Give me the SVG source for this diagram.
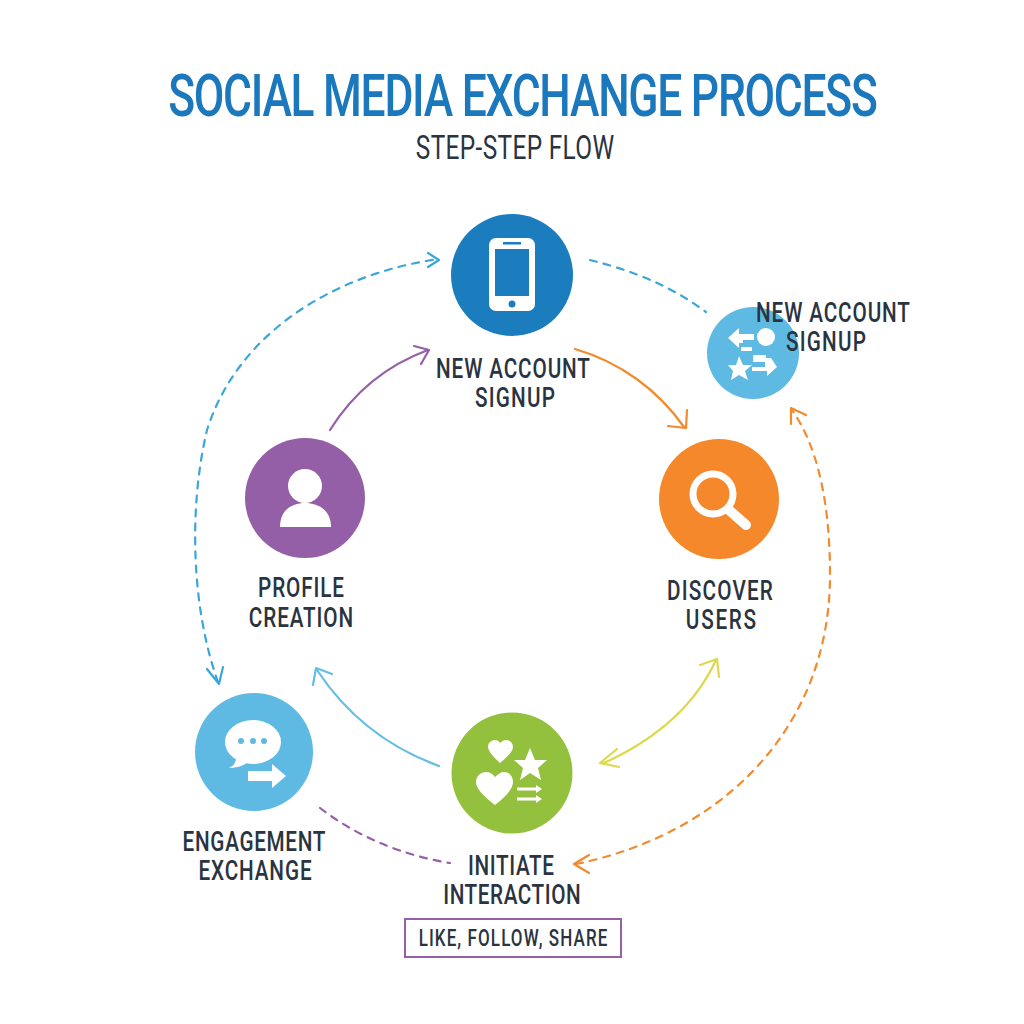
<svg xmlns="http://www.w3.org/2000/svg" width="1024" height="1024" viewBox="0 0 1024 1024">
<style>
text{font-family:Roboto,"Liberation Sans",sans-serif;text-anchor:middle;fill:#2a3441}
.l{font-size:28px;font-weight:500}
.c{fill:none;stroke-width:2.2;stroke-linecap:round;stroke-linejoin:round}
.d{stroke-dasharray:7 7}
.w{fill:#fff}
</style>
<rect width="1024" height="1024" fill="#fff"/>
<g id="title">
<text transform="translate(523 116) scale(.74 1)" font-size="60" font-weight="500" style="fill:#1b78bd" textLength="959" lengthAdjust="spacing">SOCIAL MEDIA EXCHANGE PROCESS</text>
<text transform="translate(515 159) scale(.74 1)" font-size="33" font-weight="400" textLength="268" lengthAdjust="spacing">STEP-STEP FLOW</text>
</g>
<g id="connectors">
<path class="c" stroke="#9560a8" d="M330 430C350 398 382 367 428 350"/>
<path class="c" stroke="#9560a8" d="M414 346L429 350L421 364"/>
<path class="c" stroke="#f28a2e" d="M575 349C620 362 658 390 684 427"/>
<path class="c" stroke="#f28a2e" d="M668 426L686 428L687 410"/>
<path class="c" stroke="#dcd94a" d="M604 763C650 742 693 710 716 660"/>
<path class="c" stroke="#dcd94a" d="M700 665L717 659L719 677M600 763L617 749M600 763L619 767"/>
<path class="c" stroke="#63bde4" d="M439 766C395 750 350 720 317 670"/>
<path class="c" stroke="#63bde4" d="M313 685L316 668L332 674"/>
<path class="c d" stroke="#9560a8" d="M320 808C355 835 400 855 450 863"/>
<path class="c d" stroke="#f28a2e" d="M576 864C720 835 830 730 830 575C830 510 820 450 792 410"/>
<path class="c" stroke="#f28a2e" d="M589 855L574 864L589 873M791 424L791 408L806 415"/>
<path class="c d" stroke="#3ba6d8" d="M218 682C192 610 188 510 207 430C237 335 330 275 438 259"/>
<path class="c" stroke="#3ba6d8" d="M428 253L439 260L428 267M207 669L219 684L223 667"/>
<path class="c d" stroke="#3ba6d8" d="M590 260C630 270 670 285 706 312"/>
</g>
<g id="node-signup">
<circle cx="512" cy="275" r="61" fill="#1b7dbd"/>
<rect x="489" y="238" width="46" height="73" rx="7" class="w"/>
<rect x="495" y="249" width="34" height="47" fill="#1b7dbd"/>
<rect x="503" y="242" width="18" height="2.500" fill="#1b7dbd"/>
<circle cx="512" cy="304" r="3.500" fill="#1b7dbd"/>
<text class="l" transform="translate(513 378) scale(.74 1)" textLength="208" lengthAdjust="spacing">NEW ACCOUNT</text>
<text class="l" transform="translate(515 407) scale(.74 1)" textLength="108" lengthAdjust="spacing">SIGNUP</text>
</g>
<g id="node-tools">
<circle cx="753" cy="353" r="46" fill="#5fbae3"/>
<path class="w" d="M728 338L739 328V334H754V340H743V343H739V348ZM741 347H752V351H741Z"/>
<circle cx="766" cy="337" r="9" class="w"/>
<path class="w" d="M739 356L743 365H752L745 371L748 380L739 375L731 380L733 371L728 365H736Z"/>
<path class="w" d="M753 355H766V358H771L777 367L767 376V371H752V367H765V362H753Z"/>
<text class="l" transform="translate(833 322) scale(.74 1)" textLength="208" lengthAdjust="spacing">NEW ACCOUNT</text>
<text class="l" transform="translate(826 351) scale(.74 1)" textLength="108" lengthAdjust="spacing">SIGNUP</text>
</g>
<g id="node-discover">
<circle cx="719" cy="499" r="60" fill="#f5882a"/>
<circle cx="713" cy="494" r="20" fill="none" stroke="#fff" stroke-width="7"/>
<path d="M729 510L746 525" stroke="#fff" stroke-width="10" stroke-linecap="round"/>
<text class="l" transform="translate(720 600) scale(.74 1)" textLength="143" lengthAdjust="spacing">DISCOVER</text>
<text class="l" transform="translate(721 629) scale(.74 1)" textLength="95" lengthAdjust="spacing">USERS</text>
</g>
<g id="node-profile">
<circle cx="305" cy="498" r="60" fill="#945fa7"/>
<circle cx="305" cy="486" r="17" class="w"/>
<path class="w" d="M280 527C280 510 292 503 305 503C318 503 331 510 331 527Z"/>
<text class="l" transform="translate(301 597) scale(.74 1)" textLength="116" lengthAdjust="spacing">PROFILE</text>
<text class="l" transform="translate(301 627) scale(.74 1)" textLength="141" lengthAdjust="spacing">CREATION</text>
</g>
<g id="node-engagement">
<circle cx="254" cy="752" r="59" fill="#5fbae3"/>
<ellipse cx="253" cy="742" rx="28" ry="22" class="w"/>
<path class="w" d="M236 758C236 762 234 766 229 768C238 768 246 765 250 760Z"/>
<circle cx="241" cy="741" r="3" fill="#5fbae3"/><circle cx="253" cy="741" r="3" fill="#5fbae3"/><circle cx="264" cy="741" r="3" fill="#5fbae3"/>
<path class="w" d="M248 771H272V764L286 776L272 788V781H248Z"/>
<text class="l" transform="translate(254 851) scale(.74 1)" textLength="193" lengthAdjust="spacing">ENGAGEMENT</text>
<text class="l" transform="translate(255 880) scale(.74 1)" textLength="153" lengthAdjust="spacing">EXCHANGE</text>
</g>
<g id="node-initiate">
<circle cx="512" cy="773" r="60.500" fill="#93c13d"/>
<path class="w" d="M500 763C490 754 488 749 488 747C488 742 492 740 495 740C497 740 499 741 500 743C502 741 504 740 506 740C510 740 513 743 513 747C513 750 510 755 500 763Z"/>
<path class="w" d="M530 748L535 760H547L538 768L541 780L530 773L520 780L523 768L514 760H525Z"/>
<path class="w" d="M495 805C482 795 476 788 476 782C476 776 481 772 486 772C490 772 493 774 495 777C498 774 501 772 504 772C510 772 513 777 513 782C513 788 507 796 495 805Z"/>
<path d="M517 789H538M517 799H538" stroke="#fff" stroke-width="3"/>
<path class="w" d="M536 785L542 789L536 793ZM536 795L542 799L536 803Z"/>
<text class="l" transform="translate(511 875) scale(.74 1)" textLength="116" lengthAdjust="spacing">INITIATE</text>
<text class="l" transform="translate(512 904) scale(.74 1)" textLength="186" lengthAdjust="spacing">INTERACTION</text>
</g>
<g id="note">
<rect x="405" y="919" width="216" height="38" fill="#fff" stroke="#9560a8" stroke-width="2"/>
<text transform="translate(513 946) scale(.74 1)" font-size="23" font-weight="500" textLength="255" lengthAdjust="spacing">LIKE, FOLLOW, SHARE</text>
</g>
</svg>
